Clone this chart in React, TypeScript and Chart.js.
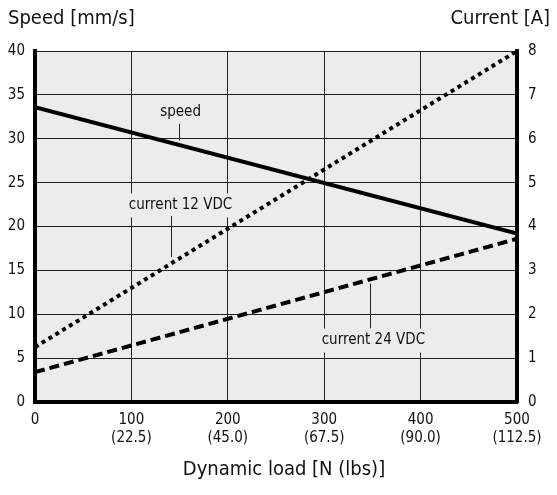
import React, { useEffect, useRef } from "react";
import { Chart, registerables } from "chart.js";

Chart.register(...registerables);

const loadN = [0, 500];
const speed = [33.6, 19.2];
const current12 = [1.25, 8.0];
const current24 = [0.68, 3.72];
const xTicks = [0, 100, 200, 300, 400, 500];
const lbsLabels = ["", "(22.5)", "(45.0)", "(67.5)", "(90.0)", "(112.5)"];

const FONT = '"Liberation Sans Narrow", "DejaVu Sans Condensed", "Roboto", sans-serif';
const BG = "#ececec";

const annotPlugin = {
  id: "annot",
  beforeDraw(chart: any) {
    const { ctx, chartArea } = chart;
    ctx.save();
    ctx.fillStyle = BG;
    ctx.fillRect(chartArea.left, chartArea.top, chartArea.right - chartArea.left, chartArea.bottom - chartArea.top);
    ctx.restore();
  },
  afterDatasetsDraw(chart: any) {
    const { ctx } = chart;
    const xs = chart.scales.x;
    const ys = chart.scales.y;
    ctx.save();
    ctx.font = `15px ${FONT}`;
    ctx.textAlign = "center";
    ctx.textBaseline = "middle";
    const labels = [
      { text: "speed", x: 151, y: 33.0, lx: 149, ly0: 31.7, ly1: 29.8 },
      { text: "current 12 VDC", x: 151, y: 22.4, lx: 141, ly0: 21.2, ly1: 16.5 },
      { text: "current 24 VDC", x: 351, y: 7.0, lx: 347, ly0: 8.4, ly1: 13.5 },
    ];
    for (const l of labels) {
      const px = xs.getPixelForValue(l.x);
      const py = ys.getPixelForValue(l.y);
      const w = ctx.measureText(l.text).width;
      ctx.fillStyle = BG;
      ctx.fillRect(px - w / 2 - 5, py - 12, w + 10, 24);
      ctx.fillStyle = "#111";
      ctx.fillText(l.text, px, py);
      const lx = xs.getPixelForValue(l.lx);
      ctx.strokeStyle = "#222";
      ctx.lineWidth = 1;
      ctx.beginPath();
      ctx.moveTo(Math.round(lx) + 0.5, ys.getPixelForValue(l.ly0));
      ctx.lineTo(Math.round(lx) + 0.5, ys.getPixelForValue(l.ly1));
      ctx.stroke();
    }
    ctx.restore();
  },
  afterDraw(chart: any) {
    const { ctx, chartArea } = chart;
    ctx.save();
    ctx.fillStyle = "#111";
    ctx.font = `20px ${FONT}`;
    ctx.textBaseline = "middle";
    ctx.textAlign = "left";
    ctx.fillText("Speed [mm/s]", 8, 19);
    ctx.textAlign = "right";
    ctx.fillText("Current [A]", 550, 19);
    ctx.textAlign = "center";
    ctx.fillText("Dynamic load [N (lbs)]", (chartArea.left + chartArea.right) / 2 + 8, 470);
    ctx.restore();
  },
};

export default function App() {
  const ref = useRef<HTMLCanvasElement>(null);
  useEffect(() => {
    if (!ref.current) return;
    const mk = (arr: number[]) => loadN.map((x, i) => ({ x, y: arr[i] }));
    const chart = new Chart(ref.current, {
      type: "line",
      data: {
        datasets: [
          { label: "speed", data: mk(speed), yAxisID: "y", borderColor: "#000", borderWidth: 4, pointRadius: 0, fill: false },
          { label: "current 12 VDC", data: mk(current12), yAxisID: "y1", borderColor: "#000", borderWidth: 4, borderDash: [4, 4], pointRadius: 0, fill: false },
          { label: "current 24 VDC", data: mk(current24), yAxisID: "y1", borderColor: "#000", borderWidth: 4, borderDash: [10, 5], pointRadius: 0, fill: false },
        ],
      },
      options: {
        animation: false,
        responsive: false,
        devicePixelRatio: 1,
        layout: { padding: { top: 51, left: 0, right: 0, bottom: 0 } },
        plugins: { legend: { display: false }, tooltip: { enabled: false }, title: { display: false } },
        scales: {
          x: {
            type: "linear",
            min: 0,
            max: 500,
            afterBuildTicks: (s: any) => { s.ticks = xTicks.map((v) => ({ value: v })); },
            afterFit: (s: any) => { s.height = 93; },
            grid: { color: "#222", lineWidth: 1, drawTicks: false },
            border: { color: "#000", width: 4 },
            ticks: {
              padding: 9,
              color: "#111",
              font: { family: FONT, size: 15, lineHeight: 1.2 },
              maxRotation: 0,
              callback: (v: any) => {
                const i = xTicks.indexOf(Number(v));
                return i <= 0 ? String(v) : [String(v), lbsLabels[i]];
              },
            },
          },
          y: {
            type: "linear",
            position: "left",
            min: 0,
            max: 40,
            afterFit: (s: any) => { s.width = 35; },
            grid: { color: "#222", lineWidth: 1, drawTicks: false },
            border: { color: "#000", width: 4 },
            ticks: { stepSize: 5, padding: 10, color: "#111", font: { family: FONT, size: 15 } },
          },
          y1: {
            type: "linear",
            position: "right",
            min: 0,
            max: 8,
            afterFit: (s: any) => { s.width = 40; },
            grid: { drawOnChartArea: false, drawTicks: false },
            border: { color: "#000", width: 4 },
            ticks: { stepSize: 1, padding: 11, color: "#111", font: { family: FONT, size: 15 } },
          },
        },
      },
      plugins: [annotPlugin],
    } as any);
    return () => chart.destroy();
  }, []);
  return (
    <div style={{ position: "fixed", left: 0, top: 0, width: 557, height: 495, background: "#fff" }}>
      <canvas ref={ref} width={557} height={495} />
    </div>
  );
}
